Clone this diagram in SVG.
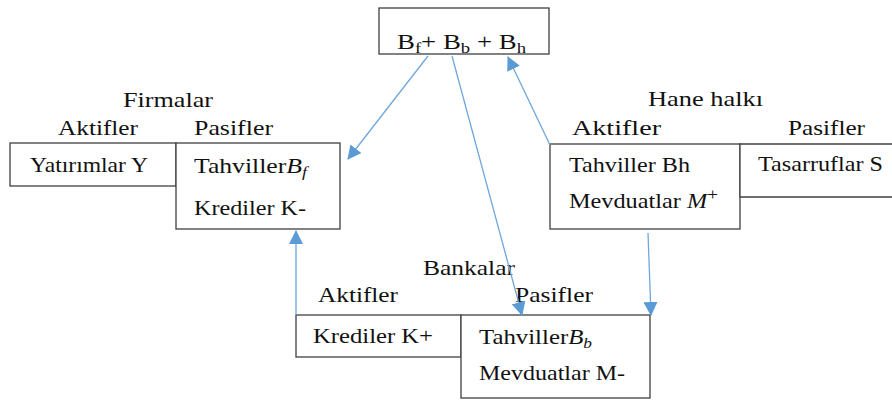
<svg xmlns="http://www.w3.org/2000/svg" width="892" height="401" viewBox="0 0 892 401">
<style>
.bx{fill:#fff;stroke:#404040;stroke-width:1.3}
.t{font-family:"Liberation Serif","Times New Roman",serif;font-size:21.5px;fill:#111}
.c{stroke:#6fa6dc;stroke-width:1.3;fill:none}
</style>
<defs>
<marker id="ah" markerUnits="userSpaceOnUse" markerWidth="14" markerHeight="14" viewBox="0 0 14 14" refX="13" refY="7" orient="auto">
<path d="M0,0 L14,7 L0,14 Z" fill="#5b9bd5"/>
</marker>
</defs>
<g id="total">
<rect class="bx" x="379" y="8" width="170" height="46"/>
<text class="t" x="397" y="49" textLength="129" lengthAdjust="spacingAndGlyphs">B<tspan dy="4" font-size="15">f</tspan><tspan dy="-4">+ B</tspan><tspan dy="4" font-size="15">b</tspan><tspan dy="-4"> + B</tspan><tspan dy="4" font-size="15">h</tspan></text>
</g>
<g id="firmalar">
<rect class="bx" x="10" y="143" width="166" height="43"/>
<rect class="bx" x="176" y="143" width="164" height="86"/>
<text class="t" x="123" y="107" textLength="90" lengthAdjust="spacingAndGlyphs">Firmalar</text>
<text class="t" x="58" y="135" textLength="80" lengthAdjust="spacingAndGlyphs">Aktifler</text>
<text class="t" x="194" y="135" textLength="79" lengthAdjust="spacingAndGlyphs">Pasifler</text>
<text class="t" x="30" y="172" textLength="118" lengthAdjust="spacingAndGlyphs">Yatırımlar Y</text>
<text class="t" x="194" y="173" textLength="113" lengthAdjust="spacingAndGlyphs">Tahviller<tspan font-style="italic">B</tspan><tspan font-style="italic" font-size="15" dy="4">f</tspan></text>
<text class="t" x="194" y="215" textLength="112" lengthAdjust="spacingAndGlyphs">Krediler K-</text>
</g>
<g id="hane">
<rect class="bx" x="550" y="144" width="190" height="85"/>
<path class="bx" d="M892,144 H740 V197 H892" fill="none"/>
<text class="t" x="648" y="106" textLength="115" lengthAdjust="spacingAndGlyphs">Hane halkı</text>
<text class="t" x="572" y="135" textLength="89" lengthAdjust="spacingAndGlyphs">Aktifler</text>
<text class="t" x="788" y="135" textLength="77" lengthAdjust="spacingAndGlyphs">Pasifler</text>
<text class="t" x="569" y="172" textLength="121" lengthAdjust="spacingAndGlyphs">Tahviller Bh</text>
<text class="t" x="758" y="171" textLength="125" lengthAdjust="spacingAndGlyphs">Tasarruflar S</text>
<text class="t" x="569" y="208" textLength="149" lengthAdjust="spacingAndGlyphs">Mevduatlar <tspan font-style="italic">M</tspan><tspan font-size="17" dy="-8">+</tspan></text>
</g>
<g id="bankalar">
<rect class="bx" x="296" y="315" width="165" height="42"/>
<rect class="bx" x="461" y="315" width="189" height="83"/>
<text class="t" x="423" y="275" textLength="92" lengthAdjust="spacingAndGlyphs">Bankalar</text>
<text class="t" x="318" y="302" textLength="80" lengthAdjust="spacingAndGlyphs">Aktifler</text>
<text class="t" x="515" y="302" textLength="78" lengthAdjust="spacingAndGlyphs">Pasifler</text>
<text class="t" x="313" y="343" textLength="120" lengthAdjust="spacingAndGlyphs">Krediler K+</text>
<text class="t" x="479" y="344" textLength="113" lengthAdjust="spacingAndGlyphs">Tahviller<tspan font-style="italic">B</tspan><tspan font-style="italic" font-size="15" dy="4">b</tspan></text>
<text class="t" x="479" y="380" textLength="146" lengthAdjust="spacingAndGlyphs">Mevduatlar M-</text>
</g>
<g id="connectors">
<line class="c" x1="428" y1="56" x2="348" y2="159" marker-end="url(#ah)"/>
<line class="c" x1="452" y1="56" x2="522" y2="315" marker-end="url(#ah)"/>
<line class="c" x1="550" y1="145" x2="508" y2="57" marker-end="url(#ah)"/>
<line class="c" x1="296" y1="315" x2="296" y2="231" marker-end="url(#ah)"/>
<line class="c" x1="648" y1="233" x2="651" y2="315" marker-end="url(#ah)"/>
</g>
</svg>
